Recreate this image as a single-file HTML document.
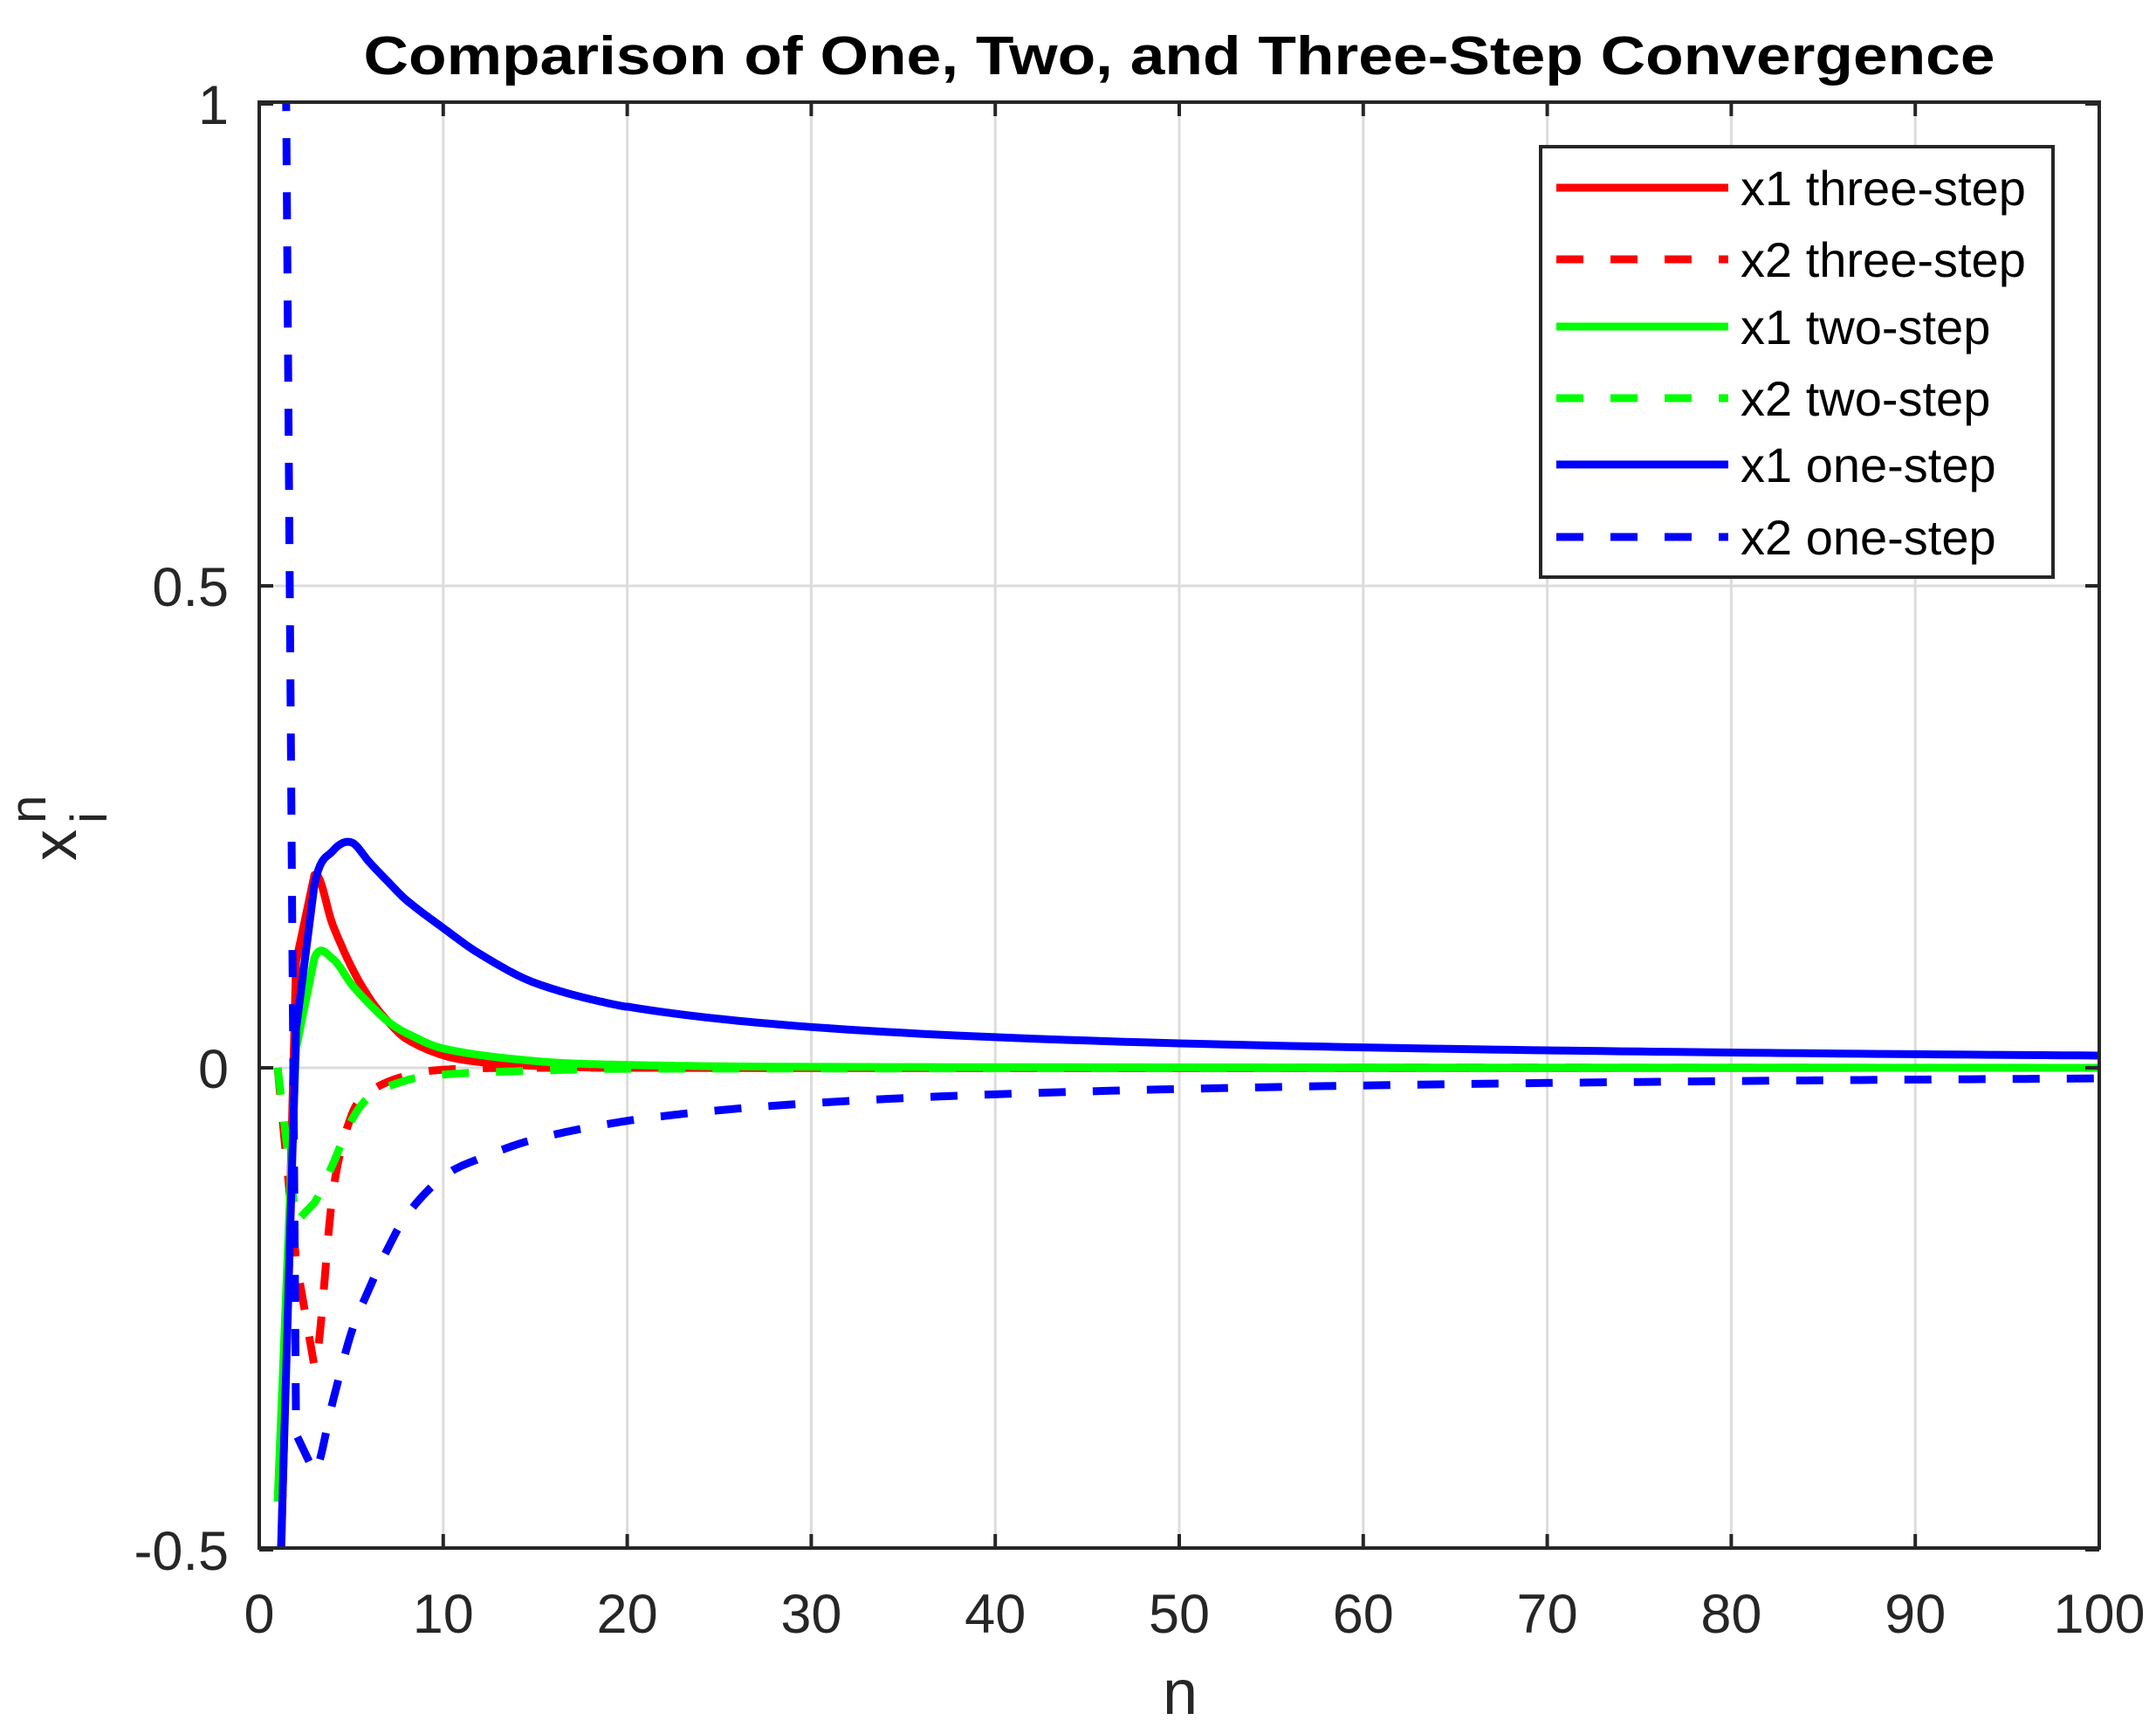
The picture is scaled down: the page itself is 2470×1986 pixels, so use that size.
<!DOCTYPE html>
<html><head><meta charset="utf-8"><style>html,body{margin:0;padding:0;background:#fff}svg{display:block}</style></head>
<body>
<svg id="s" xmlns="http://www.w3.org/2000/svg" width="2470" height="1986" viewBox="0 0 2470 1986" font-family="Liberation Sans, Arial, sans-serif">
<defs><clipPath id="c"><rect x="297" y="117" width="2108" height="1656"/></clipPath></defs>
<rect width="2470" height="1986" fill="#fff"/>
<g id="grid" stroke="#dcdcdc" stroke-width="3"></g>
<g id="series" clip-path="url(#c)" fill="none" stroke-width="9" stroke-linejoin="round"></g>
<rect x="297" y="117" width="2108" height="1656" fill="none" stroke="#262626" stroke-width="4"/>
<g id="ticks" stroke="#262626" stroke-width="4"></g>
<g id="labels" fill="#262626" font-size="63"></g>
<text x="1351" y="85" text-anchor="middle" font-weight="bold" font-size="62" fill="#000" textLength="1869" lengthAdjust="spacingAndGlyphs">Comparison of One, Two, and Three-Step Convergence</text>
<text x="1352" y="1963" text-anchor="middle" font-size="72" fill="#262626">n</text>
<text transform="translate(87,986) rotate(-90)" font-size="72" fill="#262626">x</text>
<text transform="translate(52,943) rotate(-90)" font-size="58" fill="#262626">n</text>
<text transform="translate(122,943) rotate(-90)" font-size="58" fill="#262626">i</text>
<rect x="1765" y="168" width="587" height="493" fill="#fff" stroke="#262626" stroke-width="4"/>
<g id="legend" font-size="56" fill="#000"></g>
</svg>
<script>
var NS="http://www.w3.org/2000/svg";
function el(p,t,a,txt){var e=document.createElementNS(NS,t);for(var k in a)e.setAttribute(k,a[k]);if(txt!==undefined)e.textContent=txt;p.appendChild(e);return e;}
var X0=297,XS=21.08,Y0=1223,YS=1104;
function px(n){return X0+n*XS;} function py(v){return Y0-v*YS;}
var g=document.getElementById('grid'),tk=document.getElementById('ticks'),lb=document.getElementById('labels');
for(var i=0;i<=10;i++){var x=px(i*10);
 if(i>0&&i<10)el(g,'line',{x1:x,y1:117,x2:x,y2:1773});
 el(tk,'line',{x1:x,y1:1773,x2:x,y2:1757});el(tk,'line',{x1:x,y1:117,x2:x,y2:133});
 el(lb,'text',{x:x,y:1870,'text-anchor':'middle'},String(i*10));}
[[1,'1'],[0.5,'0.5'],[0,'0'],[-0.5,'-0.5']].forEach(function(t){var y=py(t[0]);
 if(t[0]<1&&t[0]>-0.5)el(g,'line',{x1:297,y1:y,x2:2405,y2:y});
 el(tk,'line',{x1:297,y1:y,x2:313,y2:y});el(tk,'line',{x1:2405,y1:y,x2:2389,y2:y});
 el(lb,'text',{x:262,y:y+23,'text-anchor':'end'},t[1]);});
function cr(pts,n){for(var i=0;i<pts.length-1;i++){if(n>=pts[i][0]&&n<=pts[i+1][0]){
 var a=pts[i],b=pts[i+1],t=(n-a[0])/(b[0]-a[0]);
 if(i<=1)return a[1]+t*(b[1]-a[1]);
 var p0=pts[i-1],p3=pts[i+2]||b,h=b[0]-a[0];
 var m1=(b[1]-p0[1])/(b[0]-p0[0])*h,m2=(p3[1]-a[1])/((p3[0]-a[0])||1)*h;
 var t2=t*t,t3=t2*t;
 return (2*t3-3*t2+1)*a[1]+(t3-2*t2+t)*m1+(-2*t3+3*t2)*b[1]+(t3-t2)*m2;}}
 return pts[pts.length-1][1];}
function build(pts,tail){var d=[];for(var n=1;n<=100;n+=(n<25?0.1:1)){n=Math.round(n*10)/10;var v;if(tail&&n>=tail.from)v=tail.f(n);else v=cr(pts,n);d.push(px(n).toFixed(1)+','+py(v).toFixed(1));}return 'M'+d.join('L');}
var S=document.getElementById('series');
var series=[
 {c:'#ff0000',d:false,p:[[1,-0.65],[2,0.11],[3,0.2],[4,0.148],[5,0.105],[6,0.072],[7,0.048],[8,0.03],[10,0.013],[12,0.006],[15,0.002],[20,0],[100,0]]},
 {c:'#ff0000',d:true,p:[[1,0.0],[2,-0.2],[3,-0.31],[4,-0.13],[5,-0.05],[6,-0.025],[8,-0.008],[10,-0.002],[15,0],[100,0]]},
 {c:'#00ff00',d:false,p:[[1,-0.45],[2,0.02],[3,0.114],[4,0.113],[5,0.087],[6,0.066],[7,0.048],[8,0.036],[10,0.02],[15,0.007],[20,0.003],[30,0.001],[100,0]]},
 {c:'#00ff00',d:true,p:[[1,0.0],[2,-0.16],[3,-0.14],[4,-0.1],[5,-0.055],[6,-0.03],[8,-0.013],[10,-0.007],[15,-0.003],[20,-0.001],[100,0]]},
 {c:'#0000ff',d:false,p:[[1,-0.62],[2,0.04],[3,0.19],[4,0.225],[5,0.234],[6,0.213],[7,0.193],[8,0.174],[10,0.145],[12,0.118],[15,0.088],[20,0.063],[25,0.0508]],tail:{from:20,f:function(n){return 1.27/n;}}},
 {c:'#0000ff',d:true,p:[[1,2.2],[2,-0.38],[3,-0.42],[4,-0.346],[5,-0.275],[6,-0.228],[7,-0.187],[8,-0.153],[10,-0.113],[12,-0.094],[15,-0.074],[20,-0.055],[25,-0.044]],tail:{from:20,f:function(n){return -1.1/n;}}}
];
series.forEach(function(s){var a={d:build(s.p,s.tail),stroke:s.c};if(s.d)a['stroke-dasharray']='31 31';el(S,'path',a);});
var L=document.getElementById('legend');
var names=['x1 three-step','x2 three-step','x1 two-step','x2 two-step','x1 one-step','x2 one-step'];
var ys=[215,297,374,456,532,615];
series.forEach(function(s,i){var a={x1:1783,y1:ys[i],x2:1980,y2:ys[i],stroke:s.c,'stroke-width':9};if(s.d)a['stroke-dasharray']='31 31';el(L,'line',a);
 el(L,'text',{x:1994,y:ys[i]+20},names[i]);});
</script>
</body></html>
